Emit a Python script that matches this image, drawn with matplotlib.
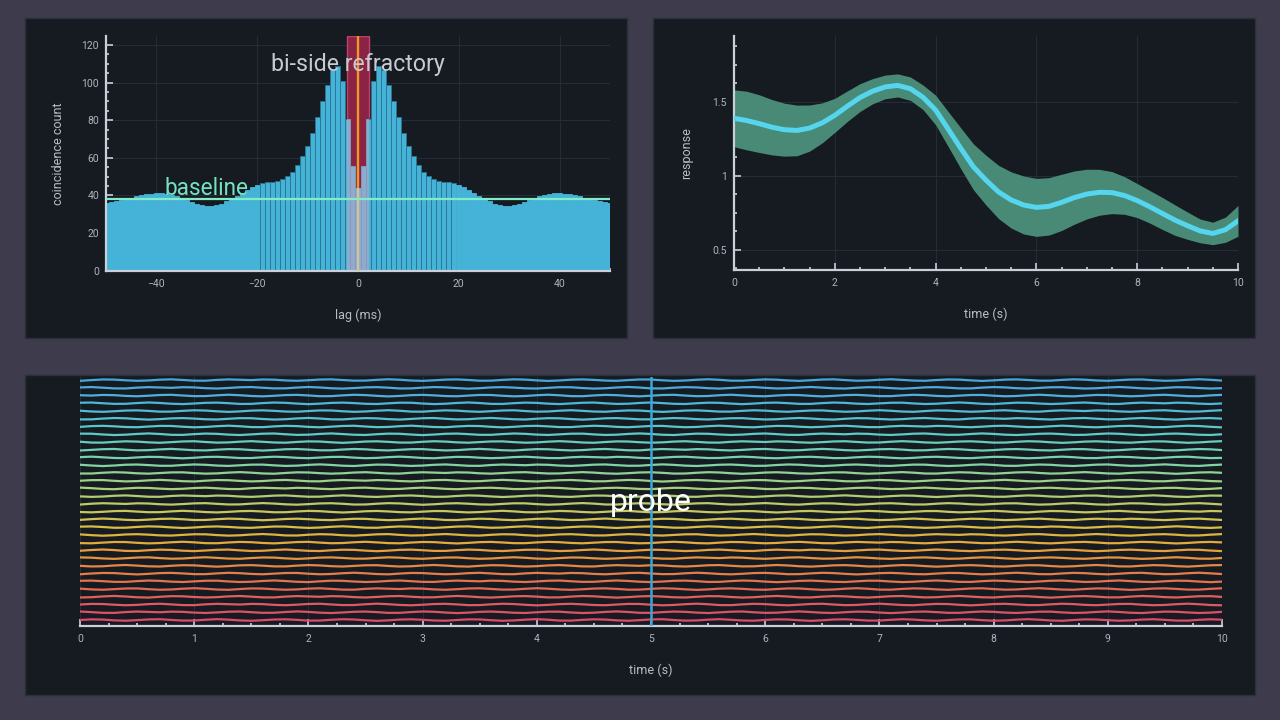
import numpy as np
import matplotlib.pyplot as plt
from matplotlib.patches import Rectangle
from matplotlib.colors import LinearSegmentedColormap
from matplotlib.ticker import MultipleLocator, FormatStrFormatter

plt.rcParams['font.family'] = ['Roboto', 'DejaVu Sans']

# ---- data: cross-correlogram (top left)
lags = np.arange(-50, 51)
counts = np.array([
    36.2, 36.6, 37.1, 37.6, 38.2, 38.8, 39.5, 40.1, 40.6, 41.0,
    41.1, 41.1, 40.9, 40.4, 39.6, 38.6, 37.5, 36.4, 35.4, 34.7,
    34.3, 34.3, 34.8, 35.7, 36.9, 38.3, 39.9, 41.5, 43.0, 44.5,
    45.6, 46.5, 47.0, 47.3, 47.9, 48.8, 50.5, 52.6, 56.2, 61.0,
    66.5, 73.4, 81.5, 90.4, 99.0, 106.7, 109.0, 101.0, 80.5, 55.7,
    43.8,
    55.7, 80.5, 101.0, 109.0, 106.7, 99.0, 90.4, 81.5, 73.4, 66.5,
    61.0, 56.2, 52.6, 50.5, 48.8, 47.9, 47.3, 47.0, 46.5, 45.6,
    44.5, 43.0, 41.5, 39.9, 38.3, 36.9, 35.7, 34.8, 34.3, 34.3,
    34.7, 35.4, 36.4, 37.5, 38.6, 39.6, 40.4, 40.9, 41.1, 41.1,
    41.0, 40.6, 40.1, 39.5, 38.8, 38.2, 37.6, 37.1, 36.6, 36.2,
])
baseline_count = 38
refractory_ms = 2.25

# ---- data: response curve (top right)
resp_t = np.arange(0, 10.01, 0.25)
resp_mean = [1.388, 1.373, 1.352, 1.328, 1.311, 1.306, 1.322, 1.357, 1.408, 1.470,
             1.528, 1.571, 1.600, 1.610, 1.588, 1.530, 1.444, 1.315, 1.185, 1.060,
             0.970, 0.890, 0.836, 0.802, 0.786, 0.793, 0.820, 0.852, 0.876, 0.888,
             0.886, 0.866, 0.832, 0.790, 0.745, 0.700, 0.662, 0.627, 0.610, 0.635,
             0.695]
resp_half = [0.192, 0.198, 0.195, 0.187, 0.179, 0.171, 0.156, 0.135, 0.115, 0.103,
             0.094, 0.085, 0.080, 0.078, 0.079, 0.083, 0.100, 0.118, 0.138, 0.155,
             0.168, 0.180, 0.190, 0.196, 0.196, 0.194, 0.190, 0.180, 0.168, 0.155,
             0.142, 0.127, 0.115, 0.110, 0.108, 0.103, 0.092, 0.080, 0.076, 0.085,
             0.104]

# ---- data: stacked traces (bottom)
n_traces = 32
wiggle = np.array([
    0.00, 0.09, 0.06, -0.05, -0.10, -0.02, 0.08, 0.11, 0.01, -0.08,
    -0.07, 0.04, 0.12, 0.05, -0.06, -0.11, -0.03, 0.07, 0.10, 0.02,
    -0.09, -0.08, 0.03, 0.11, 0.07, -0.04, -0.12, -0.05, 0.06, 0.10,
    0.03, -0.07, -0.10, 0.00, 0.09, 0.08, -0.03, -0.11, -0.06, 0.05,
    0.12, 0.04, -0.08, -0.09, 0.02, 0.10, 0.06, -0.05, -0.11, -0.02,
    0.08, 0.11, 0.00, -0.09, -0.06, 0.05, 0.12, 0.03, -0.07, -0.10,
    0.01, 0.09, 0.07, -0.04, -0.12, -0.04, 0.07, 0.10, 0.02, -0.08,
    -0.08, 0.03, 0.11, 0.06, -0.05, -0.10, -0.01, 0.08, 0.09, -0.02,
    -0.10, -0.06, 0.05, 0.12, 0.04, -0.07, -0.11, 0.00, 0.09, 0.07,
    -0.03, -0.10, -0.05, 0.06, 0.11, 0.02, -0.08, -0.09, 0.03, 0.10,
    0.05])
trace_t = np.linspace(0, 10, len(wiggle))
probe_time = 5

# ---- colours
FIG_BG = '#3d3b4c'
PANEL_BG = '#161b22'
BORDER = '#2b303a'
SPINE = '#c9d0da'
TICKLBL = '#aeb4be'
LABEL = '#b8bec8'
GRID = '#262c36'

W, H = 1280, 720


def box(x0, y0, x1, y1):
    return [x0 / W, 1 - y1 / H, (x1 - x0) / W, (y1 - y0) / H]


def style(ax):
    ax.set_facecolor(PANEL_BG)
    ax.spines['top'].set_visible(False)
    ax.spines['right'].set_visible(False)
    for s in ['left', 'bottom']:
        ax.spines[s].set_color(SPINE)
        ax.spines[s].set_linewidth(1.6)
    ax.tick_params(which='both', direction='in', color=SPINE, labelcolor=TICKLBL,
                   labelsize=7.5, width=1.2)
    ax.tick_params(which='major', length=5)
    ax.tick_params(which='minor', length=2.5)
    ax.tick_params(axis='x', pad=6)
    ax.tick_params(axis='y', pad=5)
    ax.grid(which='major', color=GRID, lw=0.8)
    ax.set_axisbelow(True)


fig = plt.figure(figsize=(12.8, 7.2), dpi=100, facecolor=FIG_BG)
for p in [(25, 18, 627, 338), (653, 18, 1255, 338), (25, 375, 1255, 695)]:
    b = box(*p)
    fig.add_artist(Rectangle((b[0], b[1]), b[2], b[3], transform=fig.transFigure,
                             facecolor=PANEL_BG, edgecolor=BORDER, lw=1, zorder=-1))

# ---------------- top left
ax1 = fig.add_axes(box(106, 36, 610, 270.7))
style(ax1)
ytop = 124.8
bar_col = '#45b3d7'
edges = ['#2a7592' if abs(l) < 20 else bar_col for l in lags]
ax1.bar(lags, counts, width=1.0, color=bar_col, edgecolor=edges, linewidth=0.6, zorder=2)
ax1.axvspan(-refractory_ms, refractory_ms, facecolor='#8b2444', edgecolor='#c23f6a',
            lw=1, zorder=1.5)
near = np.abs(lags) <= 3
pale = ax1.bar(lags[near], counts[near], width=1.0, color='#8faacd',
               edgecolor='#809cbe', linewidth=0.6, zorder=2.5)
clip = Rectangle((-refractory_ms, 0), 2 * refractory_ms, ytop, transform=ax1.transData)
for b in pale:
    b.set_clip_path(clip)
c0 = counts[lags == 0][0]
ax1.vlines(0, c0, ytop, color='#ee9626', lw=1.7, zorder=3)
ax1.vlines(0, 0, c0, color='#d4c497', lw=1.7, zorder=3)
ax1.axhline(baseline_count, color='#82ebc8', lw=1.6, zorder=3.5)
ax1.text(-38.3, baseline_count + 2, 'baseline', color='#72e2c0', fontsize=16.3,
         va='baseline', ha='left', zorder=4)
ax1.text(0, 106, 'bi-side refractory', color='#c6cad2', fontsize=16.7,
         va='baseline', ha='center', zorder=4)
ax1.set_xlim(-50, 50)
ax1.set_ylim(0, ytop)
ax1.xaxis.set_major_locator(MultipleLocator(20))
ax1.xaxis.set_minor_locator(MultipleLocator(5))
ax1.yaxis.set_major_locator(MultipleLocator(20))
ax1.yaxis.set_minor_locator(MultipleLocator(5))
ax1.set_xlabel('lag (ms)', color=LABEL, fontsize=9, labelpad=14)
ax1.set_ylabel('coincidence count', color=LABEL, fontsize=9, labelpad=12)

# ---------------- top right
ax2 = fig.add_axes(box(734, 36, 1238, 270))
style(ax2)
m = np.array(resp_mean)
hw = np.array(resp_half)
ax2.fill_between(resp_t, m - hw, m + hw, color='#488a76', lw=0, zorder=2)
ax2.plot(resp_t, m, color='#55d5ee', lw=3.6, zorder=3)
ax2.set_xlim(0, 10)
ax2.set_ylim(0.363, 1.944)
ax2.xaxis.set_major_locator(MultipleLocator(2))
ax2.xaxis.set_minor_locator(MultipleLocator(0.5))
ax2.yaxis.set_major_locator(MultipleLocator(0.5))
ax2.yaxis.set_minor_locator(MultipleLocator(0.125))
ax2.yaxis.set_major_formatter(FormatStrFormatter('%g'))
ax2.set_xlabel('time (s)', color=LABEL, fontsize=9, labelpad=14)
ax2.set_ylabel('response', color=LABEL, fontsize=9, labelpad=14)

# ---------------- bottom
ax3 = fig.add_axes(box(80, 377, 1222, 626))
style(ax3)
ax3.spines['left'].set_visible(False)
ax3.tick_params(axis='y', which='both', left=False, labelleft=False)
ax3.grid(False)
ax3.grid(axis='x', which='major', color=GRID, lw=0.8)
cmap = LinearSegmentedColormap.from_list('traces', [
    (0.0, '#e0486f'), (0.1, '#e2605c'), (0.2, '#e67f45'), (0.3, '#e8a23a'),
    (0.38, '#dcbc42'), (0.46, '#c4c85e'), (0.55, '#a8d07a'), (0.65, '#7fd4a4'),
    (0.78, '#5ccac6'), (0.9, '#4db8d8'), (1.0, '#45a8da')])
for i in range(n_traces):
    ax3.plot(trace_t, i + 0.9 * np.roll(wiggle, 7 * i), color=cmap(i / (n_traces - 1)),
             lw=1.6, zorder=2)
ax3.axvline(probe_time, color='#3ca6d8', lw=1.8, zorder=3)
ax3.text(probe_time, 0.494, 'probe', transform=ax3.get_xaxis_transform(), color='white',
         fontsize=23, ha='center', va='center', zorder=4)
ax3.set_xlim(0, 10)
ax3.set_ylim(-0.775, 31.4)
ax3.xaxis.set_major_locator(MultipleLocator(1))
ax3.xaxis.set_minor_locator(MultipleLocator(0.25))
ax3.set_xlabel('time (s)', color=LABEL, fontsize=9, labelpad=14)

fig.savefig('out.png', dpi=100, facecolor=FIG_BG)
